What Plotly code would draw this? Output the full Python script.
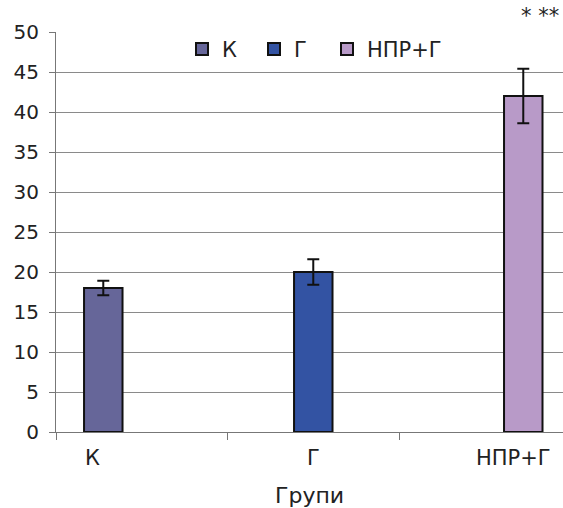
import plotly.graph_objects as go

groups = ["К", "Г", "НПР+Г"]
values = [18.0, 20.0, 42.0]
errors = [0.9, 1.6, 3.4]
colors = ["#666699", "#3353A3", "#B89AC8"]
y_ticks = [0, 5, 10, 15, 20, 25, 30, 35, 40, 45, 50]
x_label_pos = [-0.29, 1.0, 2.165]
legend_ids = ["legend", "legend2", "legend3"]
legend_x = [0.2485, 0.3905, 0.5345]

FONT = "DejaVu Sans, Liberation Sans, Arial, sans-serif"

fig = go.Figure()
for i, (g, v, e, c) in enumerate(zip(groups, values, errors, colors)):
    ys = [None] * len(groups)
    es = [0] * len(groups)
    ys[i] = v
    es[i] = e
    fig.add_trace(go.Bar(
        x=groups, y=ys, name=g, legend=legend_ids[i],
        marker=dict(color=c, line=dict(color="#111111", width=2)),
        error_y=dict(type="data", array=es, color="#111111", thickness=2, width=6),
    ))

for g, xp in zip(groups, x_label_pos):
    fig.add_annotation(x=xp, y=0, xref="x", yref="y", yshift=-12, text=g,
                       showarrow=False, yanchor="top",
                       font=dict(size=21, color="#222222"))

fig.add_annotation(x=0.5, y=0, xref="paper", yref="paper", yshift=-49,
                   text="Групи", showarrow=False, yanchor="top",
                   font=dict(size=22, color="#222222"))

fig.add_annotation(x=0.996, y=1.0, xref="paper", yref="paper", xanchor="right",
                   yanchor="bottom", yshift=2, text="* **", showarrow=False,
                   font=dict(size=21, color="#222222"))

legend_common = dict(orientation="h", y=1.008, xanchor="left", yanchor="top",
                     font=dict(size=21, color="#222222"), bgcolor="rgba(0,0,0,0)")

fig.update_layout(
    width=563, height=508,
    margin=dict(l=56, r=0, t=32, b=76, autoexpand=False),
    paper_bgcolor="white", plot_bgcolor="white",
    font=dict(family=FONT, size=20, color="#222222"),
    barmode="group", bargap=0.327, bargroupgap=0,
    showlegend=True,
    legend=dict(x=legend_x[0], **legend_common),
    legend2=dict(x=legend_x[1], **legend_common),
    legend3=dict(x=legend_x[2], **legend_common),
    xaxis=dict(type="category", range=[-0.5, 2.456], showticklabels=False,
               showgrid=False, automargin=False,
               tickmode="array", tickvals=[-0.5, 0.5, 1.5], ticks="outside",
               ticklen=7, tickcolor="#777777", showline=True, linecolor="#777777",
               linewidth=1, zeroline=False),
    yaxis=dict(range=[0, 50], tickvals=y_ticks, showgrid=True, gridcolor="#8a8a8a",
               gridwidth=1, ticks="outside", ticklen=6, tickcolor="#777777",
               showline=True, linecolor="#777777", linewidth=1, zeroline=False,
               automargin=False, ticklabelstandoff=6,
               tickfont=dict(size=20)),
)

fig.write_html("out.html", config={"displayModeBar": False},
               post_script="document.body.style.margin='0';")
